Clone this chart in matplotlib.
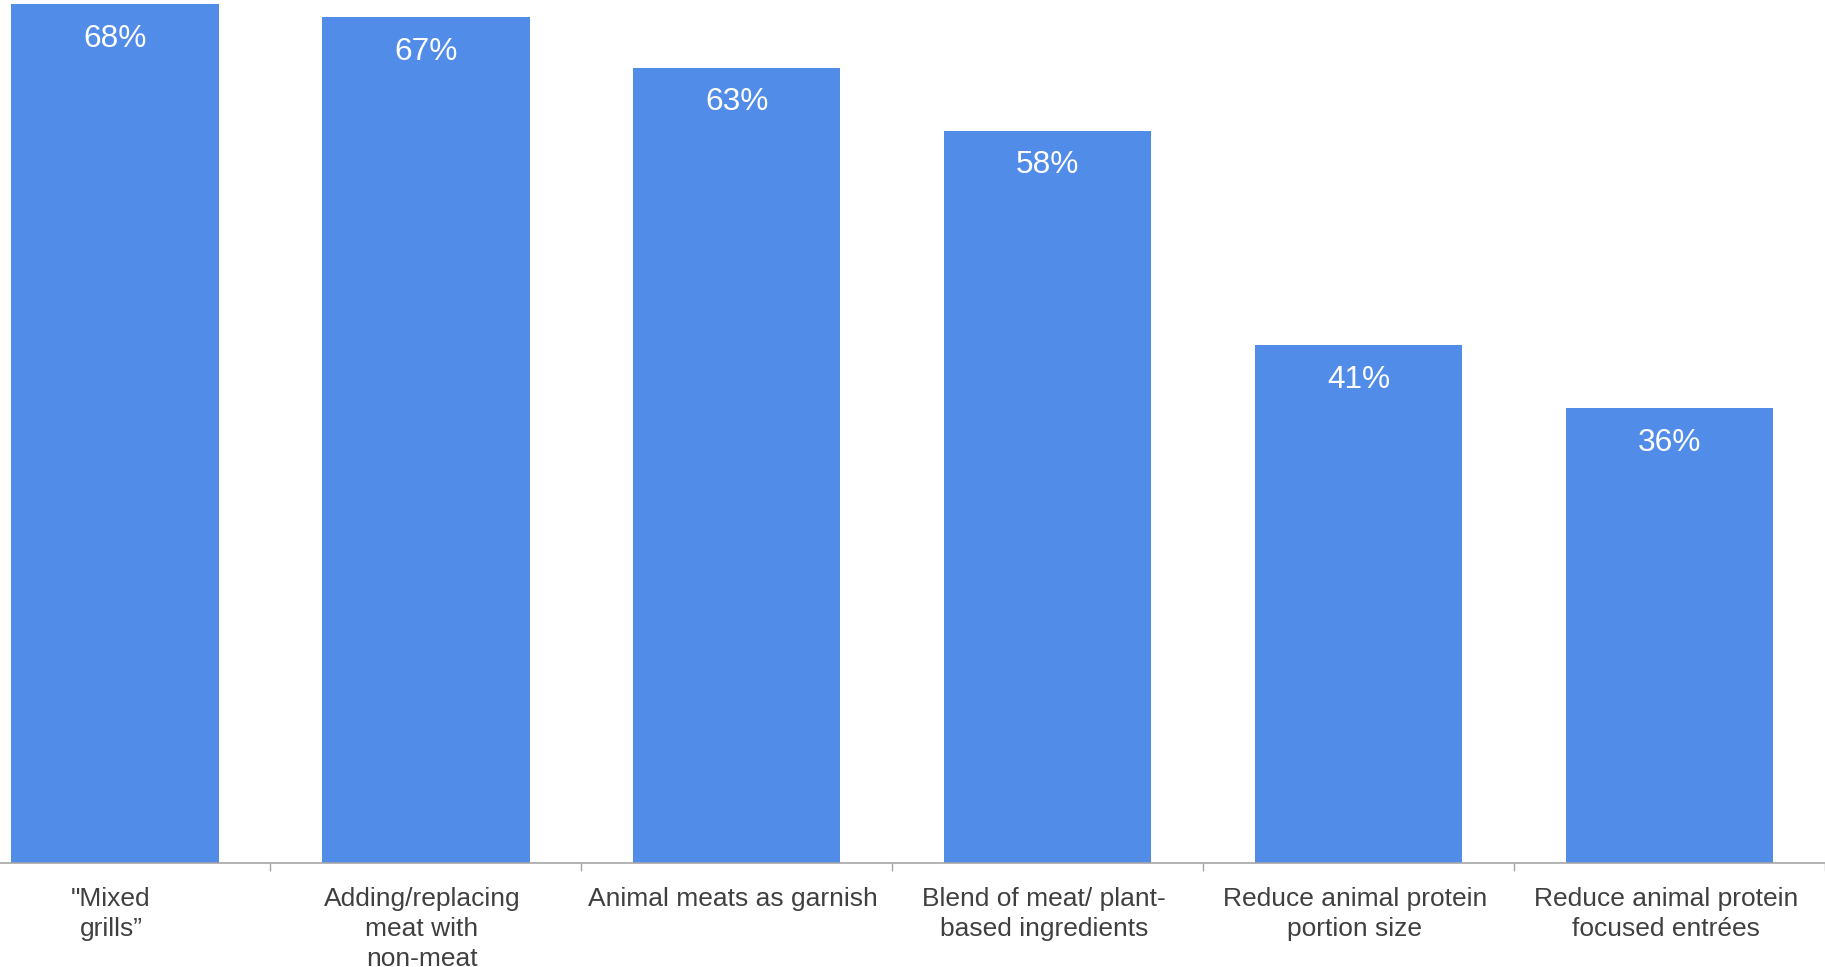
import matplotlib
matplotlib.use("Agg")
import matplotlib.pyplot as plt
import matplotlib.transforms as mtransforms
import numpy as np

plt.rcParams["font.family"] = ["Liberation Sans", "DejaVu Sans"]

categories = [
    '"Mixed\ngrills\u201d',
    "Adding/replacing\nmeat with\nnon-meat",
    "Animal meats as garnish",
    "Blend of meat/ plant-\nbased ingredients",
    "Reduce animal protein\nportion size",
    "Reduce animal protein\nfocused entr\u00e9es",
]
values = [68, 67, 63, 58, 41, 36]
value_labels = ["68%", "67%", "63%", "58%", "41%", "36%"]

BAR_COLOR = "#518ce8"
AXIS_COLOR = "#a6a6a6"
TEXT_COLOR = "#404040"

W, H, DPI = 1825, 967, 100
fig = plt.figure(figsize=(W / DPI, H / DPI), dpi=DPI)
fig.patch.set_facecolor("white")

# axes spans slightly beyond the left edge so the first category is half-cropped
left_px, right_px = -40.5, 1825.3
base_px = 863.0
ax = fig.add_axes([left_px / W, (H - base_px) / H, (right_px - left_px) / W, base_px / H])

x = np.arange(len(categories))
bars = ax.bar(x, values, width=0.666, color=BAR_COLOR, zorder=2)

ax.set_xlim(-0.5, len(categories) - 0.5)
ax.set_ylim(0, 68.35)

for rect, lab in zip(bars, value_labels):
    ax.annotate(lab, xy=(rect.get_x() + rect.get_width() / 2, rect.get_height()),
                xytext=(0, -42.5 * 72 / DPI), textcoords="offset points",
                ha="center", va="baseline", color="white", fontsize=22.8, zorder=3)

for side in ("left", "right", "top"):
    ax.spines[side].set_visible(False)
ax.spines["bottom"].set_color(AXIS_COLOR)
ax.spines["bottom"].set_linewidth(1.2)
ax.spines["bottom"].set_zorder(4)

ax.set_yticks([])
ax.set_xticks(x)
ax.set_xticklabels(categories, fontsize=19, color=TEXT_COLOR, linespacing=1.32)
ax.tick_params(axis="x", which="major", length=0, pad=17)
ax.set_xticks(np.arange(-0.5, len(categories)), minor=True)
ax.tick_params(axis="x", which="minor", length=8 * 72 / DPI, width=1.0, color=AXIS_COLOR)

shift = mtransforms.ScaledTranslation(-4 / DPI, 0, fig.dpi_scale_trans)
for lbl in ax.get_xticklabels():
    lbl.set_transform(lbl.get_transform() + shift)

fig.savefig("out.png", dpi=DPI, facecolor="white")
